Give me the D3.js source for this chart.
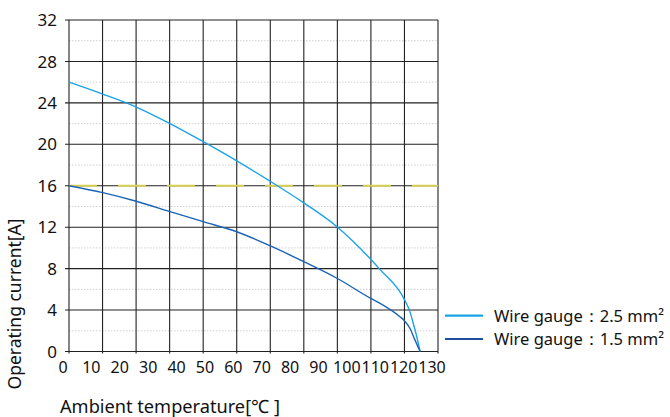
<!DOCTYPE html>
<html>
<head>
<meta charset="utf-8">
<script src="https://cdn.jsdelivr.net/npm/d3@7"></script>
<style>
    body { margin: 0; background: #fff; }
    text { font-family: "Noto Sans", "Open Sans", sans-serif; fill: #111; }
</style>
</head>
<body>
<div id="chart"></div>
<script>
// values
let xTicks = [0, 10, 20, 30, 40, 50, 60, 70, 80, 90, 100, 110, 120, 130];
let yTicks = [0, 4, 8, 12, 16, 20, 24, 28, 32];
let yMinor = [2, 6, 10, 14, 18, 22, 26, 30];
let gridColumns = 11;
let ratedCurrent = 16;

let temp25 = [0, 11.9, 23.7, 35.6, 47.3, 59.1, 70.8, 82.7, 94.4, 106.3, 109.6, 118.1, 120.1, 121.3, 122.5, 123.7];
let amps25 = [26.0, 24.85, 23.6, 22.0, 20.25, 18.4, 16.45, 14.35, 12.05, 8.9, 7.9, 5.05, 3.85, 2.7, 1.45, 0];

let temp15 = [0, 11.9, 23.7, 35.6, 47.3, 59.1, 70.8, 82.7, 94.4, 106.3, 109.6, 116.6, 118.1, 120.1, 121.9, 123.7];
let amps15 = [16.0, 15.33, 14.5, 13.5, 12.53, 11.56, 10.21, 8.67, 7.07, 5.13, 4.65, 3.36, 3.0, 2.24, 1.1, 0];

let seriesNames = ['Wire gauge：2.5 mm²', 'Wire gauge：1.5 mm²'];
let seriesColors = ['#1aa3e8', '#1d4f9e'];

let width = 670;
let height = 417;
let plotLeft = 69, plotRight = 438, plotTop = 20, plotBottom = 351.5;

let svg = d3.select('#chart')
    .append('svg')
    .attr('width', width)
    .attr('height', height);

let x = d3.scaleLinear().domain([0, 130]).range([plotLeft, plotRight]);
let y = d3.scaleLinear().domain([0, 32]).range([plotBottom, plotTop]);
let gridX = d3.scaleLinear().domain([0, gridColumns]).range([plotLeft, plotRight]);

// minor dotted lines
svg.append('g')
    .selectAll('line')
    .data(yMinor)
    .enter()
    .append('line')
    .attr('x1', plotLeft).attr('x2', plotRight)
    .attr('y1', d => y(d)).attr('y2', d => y(d))
    .attr('stroke', '#d0d0d0')
    .attr('stroke-dasharray', '1.5,1.5');

// major horizontal lines
svg.append('g')
    .selectAll('line')
    .data(yTicks)
    .enter()
    .append('line')
    .attr('x1', plotLeft - 4).attr('x2', plotRight)
    .attr('y1', d => y(d)).attr('y2', d => y(d))
    .attr('stroke', '#222')
    .attr('stroke-width', 1.1);

// vertical lines
svg.append('g')
    .selectAll('line')
    .data(d3.range(gridColumns + 1))
    .enter()
    .append('line')
    .attr('x1', d => gridX(d)).attr('x2', d => gridX(d))
    .attr('y1', plotTop).attr('y2', plotBottom + 2)
    .attr('stroke', '#222')
    .attr('stroke-width', 1.1);

// rated current dashed line
let line = d3.line()
    .x(d => x(d[0]))
    .y(d => y(d[1]));

svg.append('path')
    .attr('d', line([[0, ratedCurrent], [130, ratedCurrent]]))
    .attr('fill', 'none')
    .attr('stroke', '#d6cf55')
    .attr('stroke-width', 2)
    .attr('stroke-dasharray', '28,21');

// curves
let curve = d3.line()
    .x(d => x(d[0]))
    .y(d => y(d[1]))
    .curve(d3.curveMonotoneX);

let series = [d3.zip(temp25, amps25), d3.zip(temp15, amps15)];
svg.append('g')
    .selectAll('path')
    .data(series)
    .enter()
    .append('path')
    .attr('d', curve)
    .attr('fill', 'none')
    .attr('stroke', (d, i) => i === 0 ? seriesColors[0] : '#1a63b5')
    .attr('stroke-width', 1.4);

// y labels
svg.append('g')
    .selectAll('text')
    .data(yTicks)
    .enter()
    .append('text')
    .attr('x', 57)
    .attr('y', d => y(d))
    .attr('dy', '0.36em')
    .attr('text-anchor', 'end')
    .attr('font-size', 17)
    .text(d => d);

// x labels
svg.append('g')
    .selectAll('text')
    .data(xTicks)
    .enter()
    .append('text')
    .attr('x', d => x(d) - 6)
    .attr('y', 373)
    .attr('text-anchor', 'middle')
    .attr('font-size', 16)
    .text(d => d);

// axis titles
svg.append('text')
    .attr('transform', 'translate(21,304) rotate(-90)')
    .attr('text-anchor', 'middle')
    .attr('font-size', 17.5)
    .text('Operating current[A]');

svg.append('text')
    .attr('x', 60)
    .attr('y', 413)
    .attr('font-size', 18.2)
    .text('Ambient temperature[℃ ]');

// legend
let legend = svg.append('g')
    .selectAll('g')
    .data(seriesNames)
    .enter()
    .append('g')
    .attr('transform', (d, i) => 'translate(445,' + (315.7 + i * 23.3) + ')');

legend.append('line')
    .attr('x1', 0).attr('x2', 38)
    .attr('stroke', (d, i) => seriesColors[i])
    .attr('stroke-width', 2.2);

legend.append('text')
    .attr('x', 49)
    .attr('dy', '0.36em')
    .attr('font-size', 16.5)
    .text(d => d);
</script>
</body>
</html>
